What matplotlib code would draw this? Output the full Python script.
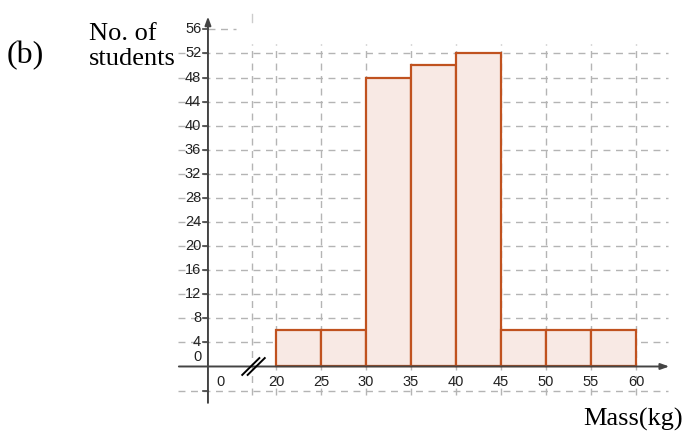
import numpy as np
import matplotlib
matplotlib.use("Agg")
import matplotlib.pyplot as plt

# ==============================
# Data
# ==============================
class_edges = [20, 25, 30, 35, 40, 45, 50, 55]
students = [6, 6, 48, 50, 52, 6, 6, 6]
bin_width = 5
x_ticks = [20, 25, 30, 35, 40, 45, 50, 55, 60]
y_ticks = [4, 8, 12, 16, 20, 24, 28, 32, 36, 40, 44, 48, 52, 56]

# ==============================
# Layout (data units: kg on x, students on y)
# ==============================
X_MIN, X_MAX = -10.667, 65.333
Y_MIN, Y_MAX = -11.88, 60.88
Y_AXIS_X = 12.44       # where the vertical axis is drawn
BREAK_X = 17.5         # axis break position
GRID_BREAK_X = 17.33   # dashed line near the break
ZERO_X = 13.8          # "0" label on the x axis
LEFT_X = 9.1
RIGHT_X = 63.6

grid_kw = dict(color="#b4b4b4", lw=1.0, ls=(0, (5, 4)), zorder=1)
axis_col = "#444444"
bar_face = "#f8e9e4"
bar_edge = "#c0521f"

fig = plt.figure(figsize=(6.84, 4.38), dpi=100)
ax = fig.add_axes([0, 0, 1, 1])
ax.set_xlim(X_MIN, X_MAX)
ax.set_ylim(Y_MIN, Y_MAX)
ax.axis("off")

# grid
for v in [-4] + y_ticks[:-1]:
    ax.plot([LEFT_X, RIGHT_X], [v, v], **grid_kw)
ax.plot([Y_AXIS_X, 15.5], [56, 56], **grid_kw)
for x in [GRID_BREAK_X] + x_ticks:
    ax.plot([x, x], [-4.8, 53.5], **grid_kw)
ax.plot([GRID_BREAK_X, GRID_BREAK_X], [57.2, 58.6], color="#cccccc", lw=1.0, zorder=1)

# bars
ax.bar(class_edges, students, width=bin_width, align="edge",
       color=bar_face, edgecolor=bar_edge, linewidth=1.6, zorder=3)

# axes with arrows
ax.annotate("", xy=(RIGHT_X + 0.4, 0), xytext=(LEFT_X - 0.2, 0),
            arrowprops=dict(arrowstyle="-|>,head_length=0.5,head_width=0.18",
                            color=axis_col, lw=1.4), zorder=4)
ax.annotate("", xy=(Y_AXIS_X, 58.6), xytext=(Y_AXIS_X, -6.5),
            arrowprops=dict(arrowstyle="-|>,head_length=0.5,head_width=0.18",
                            color=axis_col, lw=1.4), zorder=4)

# axis break
for dx in [-0.3, 0.3]:
    ax.plot([BREAK_X - 0.95 + dx, BREAK_X + 0.95 + dx], [-1.4, 1.4],
            color="black", lw=1.4, zorder=5)

# ticks and labels
tick_font = dict(family="Liberation Sans", fontsize=10.5, color="#222222")
for v in y_ticks:
    ax.plot([Y_AXIS_X - 0.55, Y_AXIS_X], [v, v], color=axis_col, lw=1.2, zorder=4)
    ax.text(Y_AXIS_X - 0.75, v, str(v), ha="right", va="center", **tick_font)
ax.text(Y_AXIS_X - 0.75, 1.6, "0", ha="right", va="center", **tick_font)
ax.plot([Y_AXIS_X - 0.55, Y_AXIS_X], [-4, -4], color=axis_col, lw=1.2, zorder=4)

for x in x_ticks:
    ax.text(x, -2.6, str(x), ha="center", va="center", **tick_font)
ax.text(ZERO_X, -2.6, "0", ha="center", va="center", **tick_font)

# titles
serif = dict(family="Liberation Serif", color="black")
fig.text(7 / 684, 1 - 56 / 438, "(b)", ha="left", va="center", fontsize=23, **serif)
fig.text(89 / 684, 1 - 34 / 438, "No. of", ha="left", va="center", fontsize=19, **serif)
fig.text(89 / 684, 1 - 59 / 438, "students", ha="left", va="center", fontsize=19, **serif)
fig.text(683 / 684, 1 - 419 / 438, "Mass(kg)", ha="right", va="center", fontsize=19, **serif)

fig.savefig("out.png", dpi=100)
